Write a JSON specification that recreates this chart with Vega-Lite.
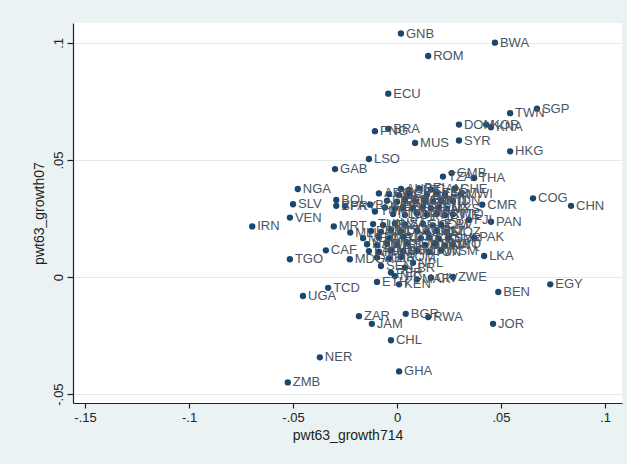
{
  "$schema": "https://vega.github.io/schema/vega-lite/v6.json",
  "width": 549,
  "height": 380,
  "autosize": {"type": "none"},
  "padding": {"left": 73, "top": 23, "right": 5, "bottom": 61},
  "background": "#eaf2f3",
  "config": {
    "view": {"fill": "white", "stroke": null},
    "font": "Liberation Sans",
    "axis": {
      "domainColor": "#222222",
      "tickColor": "#222222",
      "domainWidth": 1.2,
      "tickWidth": 1.2,
      "labelColor": "#222222",
      "titleColor": "#222222",
      "labelFont": "Liberation Sans",
      "titleFont": "Liberation Sans",
      "titleFontWeight": "normal"
    }
  },
  "data": {
    "values": [
      {"c": "GNB", "x": 0.0019, "y": 0.104},
      {"c": "BWA", "x": 0.0471, "y": 0.1001},
      {"c": "ROM", "x": 0.015, "y": 0.0944},
      {"c": "ECU", "x": -0.0042, "y": 0.0783},
      {"c": "TWN", "x": 0.0544, "y": 0.070},
      {"c": "SGP", "x": 0.0673, "y": 0.0719},
      {"c": "DOM", "x": 0.0298, "y": 0.0651},
      {"c": "KOR", "x": 0.0429, "y": 0.0651},
      {"c": "KNA", "x": 0.0452, "y": 0.0640},
      {"c": "PNG", "x": -0.0106, "y": 0.0623},
      {"c": "BRA", "x": -0.0042, "y": 0.0633},
      {"c": "MUS", "x": 0.0087, "y": 0.0573},
      {"c": "SYR", "x": 0.0298, "y": 0.0583},
      {"c": "HKG", "x": 0.0544, "y": 0.0537},
      {"c": "LSO", "x": -0.0135, "y": 0.0504},
      {"c": "GAB", "x": -0.0298, "y": 0.0461},
      {"c": "NGA", "x": -0.0477, "y": 0.0376},
      {"c": "SLV", "x": -0.050, "y": 0.0311},
      {"c": "VEN", "x": -0.0515, "y": 0.0254},
      {"c": "IRN", "x": -0.0696, "y": 0.0216},
      {"c": "TGO", "x": -0.0515, "y": 0.0076},
      {"c": "UGA", "x": -0.0452, "y": -0.0081},
      {"c": "TCD", "x": -0.0331, "y": -0.0046},
      {"c": "ZAR", "x": -0.0183, "y": -0.0167},
      {"c": "JAM", "x": -0.0121, "y": -0.0200},
      {"c": "BGR", "x": 0.0042, "y": -0.0157},
      {"c": "RWA", "x": 0.0150, "y": -0.0171},
      {"c": "JOR", "x": 0.0462, "y": -0.0200},
      {"c": "CHL", "x": -0.0029, "y": -0.0270},
      {"c": "NER", "x": -0.0371, "y": -0.0343},
      {"c": "GHA", "x": 0.0010, "y": -0.0403},
      {"c": "ZMB", "x": -0.0525, "y": -0.0450},
      {"c": "EGY", "x": 0.0737, "y": -0.0031},
      {"c": "BEN", "x": 0.0487, "y": -0.0064},
      {"c": "ZWE", "x": 0.0269, "y": 0.0000},
      {"c": "LKA", "x": 0.0419, "y": 0.0090},
      {"c": "PAK", "x": 0.0371, "y": 0.0169},
      {"c": "PAN", "x": 0.0452, "y": 0.0236},
      {"c": "FJI", "x": 0.0346, "y": 0.0244},
      {"c": "CMR", "x": 0.0410, "y": 0.0309},
      {"c": "COG", "x": 0.0654, "y": 0.0336},
      {"c": "CHN", "x": 0.0837, "y": 0.0304},
      {"c": "THA", "x": 0.0371, "y": 0.0423},
      {"c": "MWI", "x": 0.0308, "y": 0.0354},
      {"c": "GMB", "x": 0.0263, "y": 0.0444},
      {"c": "TZA", "x": 0.0221, "y": 0.0429},
      {"c": "MRT", "x": -0.0304, "y": 0.0216},
      {"c": "CAF", "x": -0.0342, "y": 0.0114},
      {"c": "MDG", "x": -0.0227, "y": 0.0076},
      {"c": "BOL", "x": -0.0292, "y": 0.0329},
      {"c": "BFA", "x": -0.0292, "y": 0.0304},
      {"c": "PRY", "x": -0.0250, "y": 0.0304},
      {"c": "BDI", "x": -0.0129, "y": 0.0309},
      {"c": "TUR", "x": -0.0106, "y": 0.0280},
      {"c": "ARG", "x": -0.0087, "y": 0.0357},
      {"c": "MLI", "x": -0.0225, "y": 0.0190},
      {"c": "MEX", "x": -0.0163, "y": 0.0166},
      {"c": "ETH", "x": -0.0096, "y": -0.0021},
      {"c": "SEN", "x": -0.0077, "y": 0.0047},
      {"c": "PER", "x": -0.0029, "y": 0.0019},
      {"c": "NIC", "x": -0.0010, "y": 0.0004},
      {"c": "NPL", "x": 0.0077, "y": 0.0061},
      {"c": "KEN", "x": 0.0010, "y": -0.0031},
      {"c": "MAR", "x": 0.0096, "y": -0.0010},
      {"c": "CIV", "x": 0.0163, "y": -0.0003},
      {"c": "LBR", "x": 0.0038, "y": 0.0040},
      {"c": "AUS", "x": 0.0019, "y": 0.0376},
      {"c": "AUT", "x": 0.0058, "y": 0.0372},
      {"c": "BEL", "x": 0.0106, "y": 0.0379},
      {"c": "CAN", "x": 0.0163, "y": 0.0374},
      {"c": "CHE", "x": 0.0279, "y": 0.0378},
      {"c": "COL", "x": -0.0038, "y": 0.0354},
      {"c": "CRI", "x": 0.0010, "y": 0.0350},
      {"c": "CYP", "x": 0.0058, "y": 0.0356},
      {"c": "DZA", "x": 0.0144, "y": 0.0352},
      {"c": "ESP", "x": 0.0192, "y": 0.0357},
      {"c": "FIN", "x": 0.0231, "y": 0.0351},
      {"c": "FRA", "x": -0.0048, "y": 0.0326},
      {"c": "GBR", "x": 0.0000, "y": 0.0322},
      {"c": "GRC", "x": 0.0038, "y": 0.0329},
      {"c": "GTM", "x": 0.0087, "y": 0.0324},
      {"c": "GIN", "x": 0.0135, "y": 0.0328},
      {"c": "HND", "x": 0.0173, "y": 0.0323},
      {"c": "HTI", "x": 0.0212, "y": 0.0327},
      {"c": "IDN", "x": 0.0269, "y": 0.0325},
      {"c": "IND", "x": -0.0058, "y": 0.0297},
      {"c": "IRL", "x": -0.0010, "y": 0.0293},
      {"c": "ISL", "x": 0.0029, "y": 0.0299},
      {"c": "ISR", "x": 0.0077, "y": 0.0295},
      {"c": "ITA", "x": 0.0125, "y": 0.0300},
      {"c": "JPN", "x": 0.0163, "y": 0.0294},
      {"c": "LUX", "x": 0.0202, "y": 0.0298},
      {"c": "MYS", "x": 0.0240, "y": 0.0292},
      {"c": "NLD", "x": -0.0019, "y": 0.0269},
      {"c": "NOR", "x": 0.0038, "y": 0.0265},
      {"c": "NZL", "x": 0.0096, "y": 0.0272},
      {"c": "PHL", "x": 0.0144, "y": 0.0266},
      {"c": "PRT", "x": 0.0192, "y": 0.0270},
      {"c": "SWE", "x": 0.0231, "y": 0.0264},
      {"c": "TTO", "x": 0.0269, "y": 0.0268},
      {"c": "TUN", "x": -0.0115, "y": 0.0226},
      {"c": "URY", "x": -0.0067, "y": 0.0222},
      {"c": "USA", "x": -0.0010, "y": 0.0229},
      {"c": "ZAF", "x": 0.0038, "y": 0.0224},
      {"c": "SLE", "x": 0.0125, "y": 0.0227},
      {"c": "COM", "x": 0.0173, "y": 0.0221},
      {"c": "CPV", "x": 0.0212, "y": 0.0225},
      {"c": "BRB", "x": -0.0125, "y": 0.0197},
      {"c": "SYC", "x": -0.0077, "y": 0.0193},
      {"c": "MLT", "x": -0.0029, "y": 0.0200},
      {"c": "DNK", "x": 0.0019, "y": 0.0195},
      {"c": "AGO", "x": 0.0096, "y": 0.0199},
      {"c": "BHS", "x": 0.0144, "y": 0.0192},
      {"c": "BLZ", "x": 0.0192, "y": 0.0197},
      {"c": "MOZ", "x": 0.0240, "y": 0.0194},
      {"c": "DMA", "x": -0.0087, "y": 0.0169},
      {"c": "GRD", "x": -0.0038, "y": 0.0165},
      {"c": "LCA", "x": 0.0029, "y": 0.0171},
      {"c": "VCT", "x": 0.0115, "y": 0.0166},
      {"c": "ATG", "x": 0.0154, "y": 0.0170},
      {"c": "GUY", "x": 0.0202, "y": 0.0164},
      {"c": "SUR", "x": 0.0250, "y": 0.0168},
      {"c": "NAM", "x": -0.0144, "y": 0.0140},
      {"c": "SWZ", "x": -0.0096, "y": 0.0136},
      {"c": "STP", "x": -0.0048, "y": 0.0142},
      {"c": "DJI", "x": 0.0000, "y": 0.0138},
      {"c": "SDN", "x": 0.0048, "y": 0.0143},
      {"c": "OMN", "x": 0.0135, "y": 0.0137},
      {"c": "SAU", "x": 0.0183, "y": 0.0141},
      {"c": "KWT", "x": 0.0231, "y": 0.0135},
      {"c": "IRQ", "x": 0.0269, "y": 0.0139},
      {"c": "LAO", "x": -0.0135, "y": 0.0111},
      {"c": "KHM", "x": -0.0087, "y": 0.0108},
      {"c": "MNG", "x": -0.0029, "y": 0.0114},
      {"c": "BTN", "x": 0.0029, "y": 0.0110},
      {"c": "MDV", "x": 0.0096, "y": 0.0112},
      {"c": "TON", "x": 0.0154, "y": 0.0107},
      {"c": "WSM", "x": 0.0212, "y": 0.0113},
      {"c": "VUT", "x": -0.0096, "y": 0.0083},
      {"c": "KIR", "x": -0.0038, "y": 0.0080},
      {"c": "SOM", "x": 0.0019, "y": 0.0086}
    ]
  },
  "encoding": {
    "x": {
      "field": "x",
      "type": "quantitative",
      "scale": {"domain": [-0.1558, 0.1082], "nice": false, "zero": false},
      "axis": {
        "title": "pwt63_growth714",
        "values": [-0.15, -0.1, -0.05, 0, 0.05, 0.1],
        "labelExpr": "(datum.value < 0 ? '-' : '') + replace(format(abs(datum.value), '~g'), '0.', '.')",
        "grid": false,
        "tickSize": 5,
        "labelPadding": 3,
        "labelFontSize": 13,
        "titleFontSize": 14,
        "titlePadding": 4
      }
    },
    "y": {
      "field": "y",
      "type": "quantitative",
      "scale": {"domain": [-0.0538, 0.1085], "nice": false, "zero": false},
      "axis": {
        "title": "pwt63_growth07",
        "values": [-0.05, 0, 0.05, 0.1],
        "labelExpr": "(datum.value < 0 ? '-' : '') + replace(format(abs(datum.value), '~g'), '0.', '.')",
        "grid": true,
        "gridColor": "#e4ebed",
        "gridWidth": 1,
        "labelAngle": 270,
        "labelAlign": "center",
        "labelBaseline": "bottom",
        "tickSize": 6,
        "labelPadding": 2,
        "labelFontSize": 13,
        "titleFontSize": 14,
        "titlePadding": 6
      }
    }
  },
  "layer": [
    {
      "mark": {"type": "circle", "size": 40, "color": "#1a476f", "opacity": 1}
    },
    {
      "mark": {"type": "text", "align": "left", "baseline": "middle", "dx": 5, "fontSize": 13, "color": "#4a5563", "font": "Liberation Sans"},
      "encoding": {"text": {"field": "c"}}
    }
  ]
}
